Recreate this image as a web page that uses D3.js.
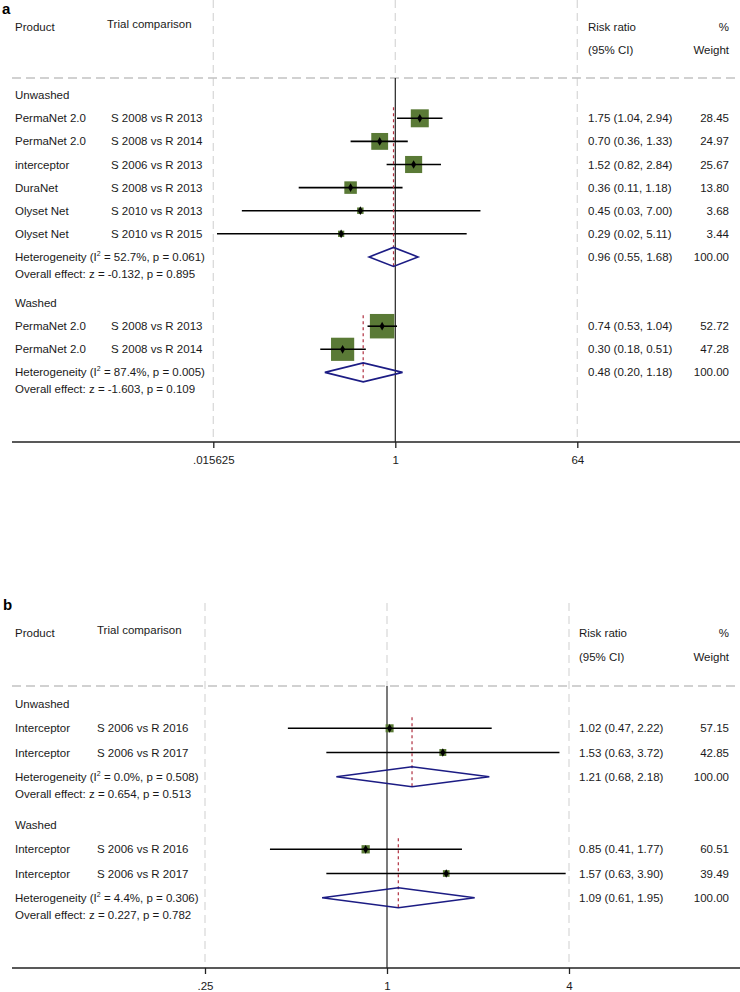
<!DOCTYPE html>
<html lang="en">
<head>
<meta charset="utf-8" />
<title>Forest plots</title>
<style>
  body  { margin:0; background:#fff; }
  svg   { display:block; font-family:"Liberation Sans", Arial, sans-serif; }
  .lbl  { font-size:11.5px; fill:#1a1a1a; }
  .sup  { font-size:7px; }
  .panel{ font-size:15px; font-weight:bold; fill:#000; }
  .grid { stroke:#dadada; stroke-width:1.3px; stroke-dasharray:8,5; }
  .hline{ stroke:#c2c2c2; stroke-width:1.5px; stroke-dasharray:9,5; }
  .null { stroke:#222; stroke-width:1.2px; }
  .ci   { stroke:#000; stroke-width:1.6px; }
  .box  { fill:#5a7a36; }
  .pool { fill:none; stroke:#1c1c84; stroke-width:1.6px; }
  .eff  { stroke:#b03040; stroke-width:1.2px; stroke-dasharray:3,3; }
  .axis { stroke:#222; stroke-width:1.3px; }
</style>
</head>
<body>
<svg width="740" height="992"></svg>
<script src="https://cdn.jsdelivr.net/npm/d3@7"></script>
<script>
/* ---------- DATA : panel a ---------- */
const aGroups   = ["Unwashed", "Washed"];
const aGroupOf  = [0, 0, 0, 0, 0, 0, 1, 1];
const aProduct  = ["PermaNet 2.0", "PermaNet 2.0", "interceptor", "DuraNet", "Olyset Net", "Olyset Net", "PermaNet 2.0", "PermaNet 2.0"];
const aTrial    = ["S 2008 vs R 2013", "S 2008 vs R 2014", "S 2006 vs R 2013", "S 2008 vs R 2013", "S 2010 vs R 2013", "S 2010 vs R 2015", "S 2008 vs R 2013", "S 2008 vs R 2014"];
const aRR       = [1.75, 0.70, 1.52, 0.36, 0.45, 0.29, 0.74, 0.30];
const aLow      = [1.04, 0.36, 0.82, 0.11, 0.03, 0.017, 0.53, 0.18];
const aHigh     = [2.94, 1.33, 2.84, 1.18, 7.00, 5.11, 1.04, 0.51];
const aWeight   = [28.45, 24.97, 25.67, 13.80, 3.68, 3.44, 52.72, 47.28];
const aPoolRR   = [0.96, 0.48];
const aPoolLow  = [0.55, 0.20];
const aPoolHigh = [1.68, 1.18];
const aI2       = ["52.7%", "87.4%"];
const aHetP     = ["0.061", "0.005"];
const aZ        = ["-0.132", "-1.603"];
const aZP       = ["0.895", "0.109"];
const aTicks    = [1/64, 1, 64];

/* ---------- DATA : panel b ---------- */
const bGroups   = ["Unwashed", "Washed"];
const bGroupOf  = [0, 0, 1, 1];
const bProduct  = ["Interceptor", "Interceptor", "Interceptor", "Interceptor"];
const bTrial    = ["S 2006 vs R 2016", "S 2006 vs R 2017", "S 2006 vs R 2016", "S 2006 vs R 2017"];
const bRR       = [1.02, 1.53, 0.85, 1.57];
const bLow      = [0.47, 0.63, 0.41, 0.63];
const bHigh     = [2.22, 3.72, 1.77, 3.90];
const bWeight   = [57.15, 42.85, 60.51, 39.49];
const bPoolRR   = [1.21, 1.09];
const bPoolLow  = [0.68, 0.61];
const bPoolHigh = [2.18, 1.95];
const bI2       = ["0.0%", "4.4%"];
const bHetP     = ["0.508", "0.306"];
const bZ        = ["0.654", "0.227"];
const bZP       = ["0.513", "0.782"];
const bTicks    = [0.25, 1, 4];

/* ---------- SET-UP ---------- */
const svg = d3.select("svg");
const f2  = d3.format(".2f");
const tickFmt = v => v < 1 ? String(+v.toPrecision(6)).replace(/^0/, "") : String(v);

function drawPanel(cfg, d) {
  const g = svg.append("g");
  const x = d3.scaleLog().base(2).domain(d3.extent(d.ticks)).range(cfg.xRange);
  const y = d3.scaleLinear().domain([0, 1]).range([cfg.row0, cfg.row0 + cfg.step]);
  const side = d3.scaleSqrt().domain([0, 100]).range([0, cfg.boxMax]);

  // panel letter
  g.append("text").attr("class", "panel").attr("x", cfg.letterX).attr("y", cfg.letterY).text(cfg.letter);

  // light dashed verticals at ticks
  g.selectAll("line.grid").data(d.ticks).join("line")
    .attr("class", "grid")
    .attr("x1", v => x(v)).attr("x2", v => x(v))
    .attr("y1", cfg.gridTop)
    .attr("y2", v => v === 1 ? cfg.hlineY : cfg.axisY);

  // header separator
  g.append("line").attr("class", "hline")
    .attr("x1", 12).attr("x2", 740).attr("y1", cfg.hlineY).attr("y2", cfg.hlineY);

  // headers
  const head = [
    ["Product", 15, cfg.head1, "start"],
    ["Trial comparison", cfg.trialHeadX, cfg.head1 - 3, "start"],
    ["Risk ratio", cfg.rrX, cfg.head1, "start"],
    ["%", 729, cfg.head1, "end"],
    ["(95% CI)", cfg.rrX, cfg.head2, "start"],
    ["Weight", 729, cfg.head2, "end"]
  ];
  g.selectAll("text.head").data(head).join("text")
    .attr("class", "lbl head")
    .attr("x", h => h[1]).attr("y", h => h[2] + 4)
    .attr("text-anchor", h => h[3])
    .text(h => h[0]);

  // null line
  g.append("line").attr("class", "null")
    .attr("x1", x(1)).attr("x2", x(1)).attr("y1", cfg.hlineY).attr("y2", cfg.axisY);

  // row layout
  const studies = d.rr.map((rr, i) => ({
    rr, lo: d.lo[i], hi: d.hi[i], w: d.w[i], product: d.product[i], trial: d.trial[i], grp: d.groupOf[i]
  }));
  let idx = 0;
  const groups = d.groups.map((name, gi) => {
    const rows = studies.filter(s => s.grp === gi);
    rows.forEach((s, k) => s.row = idx + k);
    const grp = { name, gi, head: idx - 1, first: idx, het: idx + rows.length };
    idx += rows.length + 3;
    return grp;
  });

  // group titles
  g.selectAll("text.grp").data(groups).join("text")
    .attr("class", "lbl grp").attr("x", 15).attr("y", s => y(s.head) + 4).text(s => s.name);

  // study text columns
  const row = g.selectAll("g.row").data(studies).join("g").attr("class", "row");
  row.append("text").attr("class", "lbl").attr("x", 15).attr("y", s => y(s.row) + 4).text(s => s.product);
  row.append("text").attr("class", "lbl").attr("x", cfg.trialX).attr("y", s => y(s.row) + 4).text(s => s.trial);
  row.append("text").attr("class", "lbl").attr("x", cfg.rrX).attr("y", s => y(s.row) + 4)
    .text(s => `${f2(s.rr)} (${f2(s.lo)}, ${f2(s.hi)})`);
  row.append("text").attr("class", "lbl").attr("x", 729).attr("text-anchor", "end").attr("y", s => y(s.row) + 4)
    .text(s => f2(s.w));

  // boxes, CI lines, point markers
  row.append("rect").attr("class", "box")
    .attr("x", s => x(s.rr) - side(s.w) / 2).attr("y", s => y(s.row) - side(s.w) / 2)
    .attr("width", s => side(s.w)).attr("height", s => side(s.w));
  row.append("line").attr("class", "ci")
    .attr("x1", s => x(s.lo)).attr("x2", s => x(s.hi))
    .attr("y1", s => y(s.row)).attr("y2", s => y(s.row));
  row.append("path")
    .attr("d", d3.symbol(d3.symbolDiamond, 22))
    .attr("transform", s => `translate(${x(s.rr)},${y(s.row)})`)
    .attr("fill", "#000");

  // pooled: dashed effect line, diamond, texts
  groups.forEach(gr => {
    const i = gr.gi, yh = y(gr.het), hh = cfg.diaH;
    g.append("line").attr("class", "eff")
      .attr("x1", x(d.poolRR[i])).attr("x2", x(d.poolRR[i]))
      .attr("y1", y(gr.first) - 11).attr("y2", yh + hh);
    g.append("path").attr("class", "pool")
      .attr("d", d3.line()([
        [x(d.poolLo[i]), yh], [x(d.poolRR[i]), yh - hh],
        [x(d.poolHi[i]), yh], [x(d.poolRR[i]), yh + hh]
      ]) + "Z");

    const het = g.append("text").attr("class", "lbl").attr("x", 15).attr("y", yh + 4);
    het.append("tspan").text("Heterogeneity (I");
    het.append("tspan").attr("class", "sup").attr("dy", -5).text("2");
    het.append("tspan").attr("dy", 5).text(` = ${d.i2[i]}, p = ${d.hetP[i]})`);

    g.append("text").attr("class", "lbl").attr("x", 15).attr("y", yh + cfg.ovGap + 4)
      .text(`Overall effect: z = ${d.z[i]}, p = ${d.zp[i]}`);
    g.append("text").attr("class", "lbl").attr("x", cfg.rrX).attr("y", yh + 4)
      .text(`${f2(d.poolRR[i])} (${f2(d.poolLo[i])}, ${f2(d.poolHi[i])})`);
    g.append("text").attr("class", "lbl").attr("x", 729).attr("text-anchor", "end").attr("y", yh + 4)
      .text("100.00");
  });

  // x axis
  g.append("line").attr("class", "axis")
    .attr("x1", 12).attr("x2", 740).attr("y1", cfg.axisY).attr("y2", cfg.axisY);
  const ax = g.append("g").attr("transform", `translate(0,${cfg.axisY})`)
    .call(d3.axisBottom(x).tickValues(d.ticks).tickFormat(tickFmt).tickSize(6).tickPadding(8));
  ax.select(".domain").remove();
  ax.selectAll(".tick line").attr("stroke", "#222").attr("stroke-width", 1.3);
  ax.selectAll(".tick text").attr("class", "lbl").attr("font-family", null).attr("font-size", null);
}

drawPanel(
  { letter: "a", letterX: 2, letterY: 14, gridTop: 0, hlineY: 78, axisY: 442,
    head1: 27, head2: 50, trialHeadX: 107, trialX: 111, rrX: 588,
    xRange: [213.3, 577.3], row0: 118.3, step: 23.1, boxMax: 33.7, diaH: 9.5, ovGap: 17 },
  { groups: aGroups, groupOf: aGroupOf, product: aProduct, trial: aTrial,
    rr: aRR, lo: aLow, hi: aHigh, w: aWeight,
    poolRR: aPoolRR, poolLo: aPoolLow, poolHi: aPoolHigh,
    i2: aI2, hetP: aHetP, z: aZ, zp: aZP, ticks: aTicks }
);

drawPanel(
  { letter: "b", letterX: 3, letterY: 610, gridTop: 603, hlineY: 686, axisY: 968,
    head1: 633, head2: 657, trialHeadX: 97, trialX: 97, rrX: 579,
    xRange: [205, 569], row0: 728.3, step: 24.2, boxMax: 10.6, diaH: 10, ovGap: 17.5 },
  { groups: bGroups, groupOf: bGroupOf, product: bProduct, trial: bTrial,
    rr: bRR, lo: bLow, hi: bHigh, w: bWeight,
    poolRR: bPoolRR, poolLo: bPoolLow, poolHi: bPoolHigh,
    i2: bI2, hetP: bHetP, z: bZ, zp: bZP, ticks: bTicks }
);
</script>
</body>
</html>
